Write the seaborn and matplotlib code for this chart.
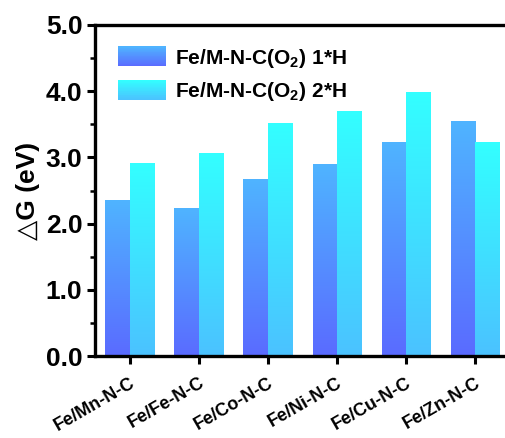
import numpy as np
import pandas as pd
import matplotlib
matplotlib.use("Agg")
import matplotlib.pyplot as plt
import seaborn as sns
from matplotlib.colors import LinearSegmentedColormap
from matplotlib.patches import Rectangle
from matplotlib.legend_handler import HandlerBase

# Data
catalysts = ["Fe/Mn-N-C", "Fe/Fe-N-C", "Fe/Co-N-C", "Fe/Ni-N-C", "Fe/Cu-N-C", "Fe/Zn-N-C"]
dg_1h = [2.35, 2.22, 2.67, 2.89, 3.22, 3.54]
dg_2h = [2.90, 3.06, 3.51, 3.69, 3.98, 3.22]
series_names = ["Fe/M-N-C(O$_2$) 1*H", "Fe/M-N-C(O$_2$) 2*H"]
y_ticks = [0.0, 1.0, 2.0, 3.0, 4.0, 5.0]

# Gradient colours (bottom -> top) for each series
grad_colors = [("#5A6BFF", "#4FB4FF"), ("#4BC2FF", "#33FFFF")]
cmaps = [LinearSegmentedColormap.from_list(f"g{i}", c) for i, c in enumerate(grad_colors)]

df = pd.DataFrame({
    "catalyst": catalysts * 2,
    "dG": dg_1h + dg_2h,
    "series": [series_names[0]] * len(catalysts) + [series_names[1]] * len(catalysts),
})

sns.set_style("ticks")
plt.rcParams["font.family"] = ["Liberation Sans", "DejaVu Sans"]
plt.rcParams["font.weight"] = "bold"
plt.rcParams["mathtext.default"] = "regular"
for key in ["text.color", "axes.labelcolor", "xtick.color", "ytick.color", "axes.edgecolor"]:
    plt.rcParams[key] = "black"

fig = plt.figure(figsize=(5.06, 4.38), dpi=100)
ax = fig.add_axes([0.1877, 0.187, 0.819, 0.756])

sns.barplot(data=df, x="catalyst", y="dG", hue="series", order=catalysts,
            hue_order=series_names, width=0.7, gap=0, palette=["#5A8BFF", "#3FE0FF"],
            linewidth=0, ax=ax, legend=False)

# Replace the flat fill of each bar by a vertical gradient
grad = np.linspace(0, 1, 256).reshape(-1, 1)
n = len(catalysts)
for i, bar in enumerate(ax.patches[: 2 * n]):
    s = i // n
    x0, y0 = bar.get_x(), bar.get_y()
    w, h = bar.get_width(), bar.get_height()
    ax.imshow(grad, cmap=cmaps[s], origin="lower", aspect="auto",
              extent=[x0, x0 + w, y0, y0 + h], zorder=bar.get_zorder(), interpolation="bilinear")
    bar.set_facecolor("none")

ax.set_xlim(-0.5, 5.5)
ax.set_ylim(0, 5.0)
ax.set_aspect("auto")

ax.set_yticks(y_ticks)
ax.set_yticklabels([f"{v:.1f}" for v in y_ticks], fontsize=19, fontweight="bold")
ax.set_yticks(np.arange(0.5, 5.0, 1.0), minor=True)
ax.set_xticks(range(n))
ax.set_xticklabels(catalysts, rotation=30, ha="right", rotation_mode="anchor",
                   fontsize=13, fontweight="bold")
ax.tick_params(axis="both", which="major", direction="out", length=6, width=2.2, pad=3)
ax.tick_params(axis="y", which="minor", direction="out", length=3.5, width=1.8)
ax.tick_params(axis="x", which="major", pad=7)

ax.set_xlabel("")
ax.set_ylabel("△G (eV)", fontsize=19, fontweight="bold", labelpad=4)

for side in ["left", "bottom", "top"]:
    ax.spines[side].set_linewidth(2.4)
    ax.spines[side].set_color("black")
    ax.spines[side].set_visible(True)
ax.spines["right"].set_visible(False)


class GradientHandler(HandlerBase):
    def __init__(self, cmap):
        super().__init__()
        self.cmap = cmap

    def create_artists(self, legend, orig_handle, xdescent, ydescent, width, height, fontsize, trans):
        steps = 24
        arts = []
        for k in range(steps):
            c = self.cmap((k + 0.5) / steps)
            r = Rectangle((-xdescent, -ydescent + height * k / steps), width, height / steps + 0.3,
                          facecolor=c, edgecolor="none", transform=trans)
            arts.append(r)
        return arts


proxies = [Rectangle((0, 0), 1, 1) for _ in series_names]
ax.legend(proxies, series_names, handler_map={proxies[0]: GradientHandler(cmaps[0]),
                                              proxies[1]: GradientHandler(cmaps[1])},
          loc="upper left", bbox_to_anchor=(0.035, 0.96), frameon=False,
          prop={"size": 15, "weight": "bold"}, handlelength=2.3, handleheight=1.05,
          labelspacing=0.5, handletextpad=0.45, borderaxespad=0)

fig.savefig("out.png", dpi=100)
